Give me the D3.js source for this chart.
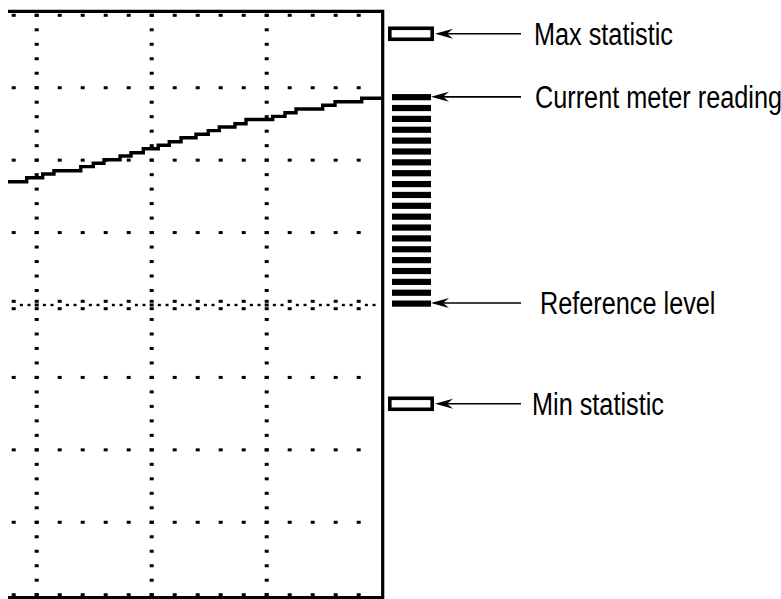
<!DOCTYPE html>
<html lang="en">
<head>
<meta charset="utf-8">
<title>Meter display</title>
<script src="https://d3js.org/d3.v7.min.js"></script>
<style>
  body { margin: 0; background: #fff; }
  text { font-family: "Liberation Sans", Arial, sans-serif; }
</style>
</head>
<body>
<div id="chart"></div>
<script>
// trace: step start positions, in graticule divisions
var traceX = [0.75, 0.913, 1.052, 1.15, 1.383, 1.492, 1.585, 1.725, 1.82, 1.927, 2.057, 2.153,
              2.255, 2.385, 2.492, 2.588, 2.724, 2.82, 3.052, 3.159, 3.255, 3.487, 3.594, 3.826, 4.0];
var traceY = [5.702, 5.758, 5.809, 5.854, 5.91, 5.957, 6.006, 6.057, 6.103, 6.158, 6.205, 6.255,
              6.31, 6.357, 6.407, 6.458, 6.503, 6.561, 6.605, 6.655, 6.706, 6.757, 6.807, 6.854, 6.854];

var maxStat = 7.745;
var currentReading = 6.86;
var refLevel = 4.0;
var minStat = 2.636;
var meterSegments = 20;

var labels = ["Max statistic", "Current meter reading", "Reference level", "Min statistic"];
var labelValues = [maxStat, currentReading, refLevel, minStat];

var W = 781, H = 599;

var svg = d3.select("#chart").append("svg")
    .attr("width", W)
    .attr("height", H);

// scales: 4 divisions across (left part cut off), 8 divisions up
var x = d3.scaleLinear().domain([0, 4]).range([-78.3, 381.7]);
var y = d3.scaleLinear().domain([0, 8]).range([594.7, 15.3]);

svg.append("clipPath").attr("id", "clip")
  .append("rect").attr("x", 8).attr("y", 0).attr("width", 380).attr("height", H);

var g = svg.append("g").attr("clip-path", "url(#clip)");

// minor grid positions
var xMinor = d3.range(0, 20).map(function(i) { return i * 0.2; });
var yMinor = d3.range(0, 41).map(function(i) { return i * 0.2; });
var rows = [0, 1, 2, 3, 5, 6, 7, 8];
var cols = [1, 2, 3];

var dots = [];
rows.forEach(function(r) {
  xMinor.forEach(function(d) { dots.push([x(d), y(r)]); });
});
cols.forEach(function(c) {
  yMinor.forEach(function(d) { dots.push([x(c), y(d)]); });
});

g.selectAll("rect.dot")
  .data(dots)
  .enter().append("rect")
    .attr("class", "dot")
    .attr("x", function(d) { return d[0] - 2; })
    .attr("y", function(d) { return d[1] - 1.5; })
    .attr("width", 4)
    .attr("height", 3)
    .attr("fill", "#000");

// reference level row: paired ticks plus denser dots
var refPairs = [];
var refSmall = [];
xMinor.forEach(function(d) {
  refPairs.push([x(d), y(refLevel) - 3.7]);
  refPairs.push([x(d), y(refLevel) + 3.7]);
  refSmall.push([x(d + 0.2 / 3), y(refLevel)]);
  refSmall.push([x(d + 0.4 / 3), y(refLevel)]);
});
g.selectAll("rect.refpair")
  .data(refPairs)
  .enter().append("rect")
    .attr("x", function(d) { return d[0] - 2; })
    .attr("y", function(d) { return d[1] - 1.5; })
    .attr("width", 4)
    .attr("height", 3)
    .attr("fill", "#000");
g.selectAll("rect.refsmall")
  .data(refSmall)
  .enter().append("rect")
    .attr("x", function(d) { return d[0] - 1.5; })
    .attr("y", function(d) { return d[1] - 1.2; })
    .attr("width", 3)
    .attr("height", 2.4)
    .attr("fill", "#000");

// border: top, right, bottom
g.append("path")
  .attr("d", "M" + 0 + "," + (y(8) - 4) +
             "H" + (x(4) + 1) +
             "V" + (y(0) + 2.8) +
             "H" + 0)
  .attr("fill", "none")
  .attr("stroke", "#000")
  .attr("stroke-width", 3.2);

// trace
var line = d3.line()
  .x(function(d, i) { return x(traceX[i]); })
  .y(function(d, i) { return y(traceY[i]); })
  .curve(d3.curveStepAfter);

g.append("path")
  .datum(traceX)
  .attr("d", line)
  .attr("fill", "none")
  .attr("stroke", "#000")
  .attr("stroke-width", 3.4);

// meter bars between reference and current reading
var seg = d3.scaleLinear().domain([0, meterSegments - 1]).range([y(currentReading) - 0.8, y(refLevel) - 1.5]);
svg.selectAll("rect.bar")
  .data(d3.range(meterSegments))
  .enter().append("rect")
    .attr("x", 392)
    .attr("y", function(d) { return seg(d) - 3; })
    .attr("width", 39)
    .attr("height", 6.2)
    .attr("fill", "#000");

// max / min statistic boxes
[maxStat, minStat].forEach(function(v) {
  svg.append("rect")
    .attr("x", 389.8)
    .attr("y", y(v) - 5.5)
    .attr("width", 42.4)
    .attr("height", 11)
    .attr("fill", "#fff")
    .attr("stroke", "#000")
    .attr("stroke-width", 3.6);
});

// arrows and labels
var tips = [435, 431, 431, 435];
var textX = [534, 535, 540, 532];

labels.forEach(function(t, i) {
  var ay = y(labelValues[i]);
  if (i === 1) ay = ay - 1;
  if (i === 2) ay = ay - 2;
  var tx = tips[i];
  svg.append("line")
    .attr("x1", tx + 10).attr("x2", 521)
    .attr("y1", ay).attr("y2", ay)
    .attr("stroke", "#000")
    .attr("stroke-width", 1.6);
  svg.append("path")
    .attr("d", "M" + tx + "," + ay +
               "L" + (tx + 18) + "," + (ay - 5) +
               "L" + (tx + 12) + "," + ay +
               "L" + (tx + 18) + "," + (ay + 5) + "Z")
    .attr("fill", "#000");
  svg.append("text")
    .attr("transform", "translate(" + textX[i] + "," + (ay + 11) + ") scale(0.815,1)")
    .attr("font-size", 31)
    .attr("fill", "#000")
    .text(t);
});
</script>
</body>
</html>
